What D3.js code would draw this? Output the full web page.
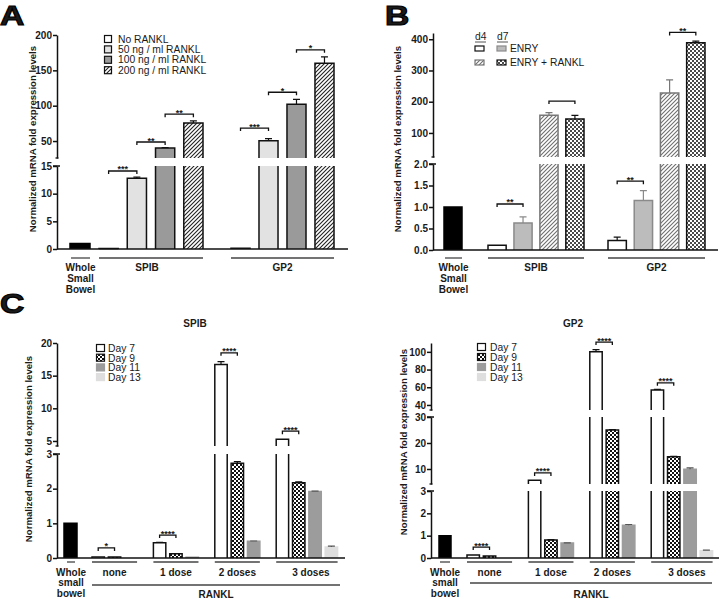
<!DOCTYPE html>
<html><head><meta charset="utf-8">
<script src="https://cdn.jsdelivr.net/npm/d3@7"></script>
<style>
body{margin:0;background:#fff}
svg{display:block}
text{font-family:"Liberation Sans",Arial,sans-serif;fill:#1a1a1a}
</style>
</head><body>
<svg id="c" width="720" height="599"></svg>
<script>
// ---------------- DATA ----------------
// Panel A
const aSeries = ["No RANKL", "50 ng / ml RANKL", "100 ng / ml RANKL", "200 ng / ml RANKL"];
const aGroups = ["SPIB", "GP2"];
const aWhole = 1.0;
const aSPIB = [0.1, 12.8, 40, 75.5];
const aSPIBErr = [0, 0.2, 0.6, 3];
const aGP2 = [0.15, 50.5, 102, 160];
const aGP2Err = [0, 3, 7, 9];
const aTicksLow = [0, 5, 10, 15];
const aTicksHigh = [50, 100, 150, 200];
const aSig = [["SPIB", 0, 1, 14.1, "***"], ["SPIB", 1, 2, 48.6, "**"], ["SPIB", 2, 3, 88, "**"],
              ["GP2", 0, 1, 68.4, "***"], ["GP2", 1, 2, 119, "*"], ["GP2", 2, 3, 179, "*"]];

// Panel B
const bSeries = ["d4 ENRY", "d7 ENRY", "d4 ENRY + RANKL", "d7 ENRY + RANKL"];
const bGroups = ["SPIB", "GP2"];
const bWhole = 1.0;
const bSPIB = [0.11, 0.63, 157, 145];
const bSPIBErr = [0, 0.14, 8, 11];
const bGP2 = [0.22, 1.15, 228, 389];
const bGP2Err = [0.08, 0.23, 42, 5];
const bTicksLow = [0, 0.5, 1.0, 1.5, 2.0];
const bTicksHigh = [100, 200, 300, 400];
const bSig = [["SPIB", 0, 1, 1.07, "**"], ["SPIB", 2, 3, 202, ""],
              ["GP2", 0, 1, 1.6, "**"], ["GP2", 2, 3, 422, "**"]];

// Panel C
const cSeries = ["Day 7", "Day 9", "Day 11", "Day 13"];
const cGroups = ["none", "1 dose", "2 doses", "3 doses"];
// SPIB (values per group: Day7, Day9, Day11, Day13; null = not measured)
const cSpibWhole = 1.0;
const cSpib = [[0.03, 0.03, 0, null], [0.44, 0.12, 0.02, null], [16.7, 2.73, 0.48, null], [5.25, 2.17, 1.92, 0.32]];
const cSpibErr = [[0, 0, 0, 0], [0.01, 0.01, 0, 0], [0.45, 0.05, 0.01, 0], [0, 0.03, 0.01, 0.02]];
const cSpibTicksLow = [0, 1, 2, 3];
const cSpibTicksHigh = [5, 10, 15, 20];
const cSpibSig = [["none", 0, 1, 0.29, "*"], ["1 dose", 0, 1, 0.66, "****"],
                  ["2 doses", 0, 1, 18.5, "****"], ["3 doses", 0, 1, 6.5, "****"]];
// GP2
const cGp2Whole = 1.0;
const cGp2 = [[0.13, 0.09, 0, null], [5.7, 0.81, 0.67, null], [100, 25, 1.47, null], [57, 14.7, 9.9, 0.32]];
const cGp2Err = [[0, 0, 0, 0], [0, 0.01, 0.01, 0], [2.5, 0.2, 0.03, 0], [0.5, 0.2, 0.5, 0.03]];
const cGp2TicksLow = [0, 1, 2, 3];
const cGp2TicksMid = [10, 20, 30];
const cGp2TicksHigh = [40, 60, 80, 100];
const cGp2Sig = [["none", 0, 1, 0.49, "****"], ["1 dose", 0, 1, 8.5, "****"],
                 ["2 doses", 0, 1, 111, "****"], ["3 doses", 0, 1, 65, "****"]];

const yTitle = "Normalized mRNA  fold expression levels";

// ---------------- DRAWING ----------------
const svg = d3.select("#c");
const defs = svg.append("defs");
function hatch(id, color) {
  const p = defs.append("pattern").attr("id", id).attr("patternUnits", "userSpaceOnUse")
    .attr("width", 4).attr("height", 4);
  p.append("rect").attr("width", 4).attr("height", 4).attr("fill", "#fff");
  p.append("path").attr("d", "M-1,1L1,-1M0,4L4,0M3,5L5,3").attr("stroke", color).attr("stroke-width", 1.1);
}
function checker(id, color) {
  const p = defs.append("pattern").attr("id", id).attr("patternUnits", "userSpaceOnUse")
    .attr("width", 4).attr("height", 4);
  p.append("rect").attr("width", 4).attr("height", 4).attr("fill", "#fff");
  p.append("rect").attr("width", 2).attr("height", 2).attr("fill", color);
  p.append("rect").attr("x", 2).attr("y", 2).attr("width", 2).attr("height", 2).attr("fill", color);
}
hatch("hatchBlack", "#222");
hatch("hatchGray", "#6f6f6f");
checker("checkBlack", "#111");
checker("checkGray", "#4a4a4a");

const whiteS = {fill: "#fff", stroke: "#111"};
const wholeS = {fill: "#000", stroke: "#000"};
const aStyles = [whiteS, {fill: "#e2e2e2", stroke: "#111"}, {fill: "#9a9a9a", stroke: "#111"}, {fill: "url(#hatchBlack)", stroke: "#111"}];
const bStyles = [whiteS, {fill: "#bcbcbc", stroke: "#8a8a8a"}, {fill: "url(#hatchGray)", stroke: "#777"}, {fill: "url(#checkGray)", stroke: "#111"}];
const cStyles = [whiteS, {fill: "url(#checkBlack)", stroke: "#111"}, {fill: "#9c9c9c", stroke: "#9c9c9c"}, {fill: "#dedede", stroke: "#dedede"}];

function drawChart(cfg) {
  const g = svg.append("g");
  const segs = cfg.segments.map(s => Object.assign({}, s, {scale: d3.scaleLinear().domain(s.domain).range(s.range)}));
  const yOf = v => { let s = segs[0]; for (const t of segs) if (v >= t.domain[0]) s = t; return s.scale(v); };

  // y axis segments
  segs.forEach((s, i) => {
    const ax = g.append("g").attr("transform", `translate(${cfg.axisX},0)`)
      .call(d3.axisLeft(s.scale).tickValues(s.ticks).tickSize(4).tickSizeOuter(0).tickFormat(d3.format(s.fmt || "d")));
    ax.select(".domain").attr("stroke", "#111").attr("stroke-width", 1.5);
    ax.selectAll(".tick line").attr("stroke", "#111").attr("stroke-width", 1.5);
    ax.selectAll(".tick text").attr("font-size", 10).attr("font-weight", "bold").attr("x", -5)
      .attr("font-family", '"Liberation Sans",Arial,sans-serif').attr("fill", "#1a1a1a");
    if (i > 0) g.append("line").attr("x1", cfg.axisX - 1.5).attr("x2", cfg.axisX + 1.5)
      .attr("y1", s.range[0]).attr("y2", s.range[0]).attr("stroke", "#111").attr("stroke-width", 1.3);
    if (i < segs.length - 1) g.append("line").attr("x1", cfg.axisX - 4).attr("x2", cfg.axisX + 3)
      .attr("y1", s.range[1]).attr("y2", s.range[1]).attr("stroke", "#111").attr("stroke-width", 1.5);
  });

  // bars
  function bar(x, w, v, err, st) {
    if (v === null || v === undefined) return;
    segs.forEach((s, i) => {
      const lo = i === 0 ? 0 : s.domain[0];
      if (v <= lo && !(i === 0)) return;
      const hi = Math.min(v, s.domain[1]);
      const yb = s.scale(lo), yt = s.scale(hi);
      g.append("rect").attr("x", x).attr("y", yt).attr("width", w).attr("height", Math.max(0, yb - yt)).attr("fill", st.fill);
      if (st.stroke && v > 0) {
        const closed = v <= s.domain[1];
        const d = closed ? `M${x},${yb}V${yt}H${x + w}V${yb}` : `M${x},${yb}V${yt}M${x + w},${yt}V${yb}`;
        g.append("path").attr("d", d).attr("fill", "none").attr("stroke", st.stroke).attr("stroke-width", 1.5);
      }
    });
    if (err > 0) {
      const cx = x + w / 2, y1 = yOf(v), y2 = yOf(v + err);
      const ec = st.stroke === "#dedede" || st.stroke === "#9c9c9c" ? "#555" : st.stroke;
      g.append("path").attr("d", `M${cx},${y1}V${y2}M${cx - 3.5},${y2}H${cx + 3.5}`)
        .attr("stroke", ec).attr("stroke-width", 1.2).attr("fill", "none");
    }
  }

  // whole bowel bar
  bar(cfg.whole.x0, cfg.whole.x1 - cfg.whole.x0, cfg.whole.value, 0, wholeS);
  const inner = {};
  cfg.groups.forEach((gr, gi) => {
    const xb = d3.scaleBand().domain(cfg.series).range(gr.extent).paddingInner(cfg.pad).paddingOuter(0);
    inner[gr.name] = xb;
    let lastX = gr.extent[0];
    cfg.series.forEach((s, si) => {
      const v = gr.values[si];
      if (v !== null) lastX = xb(s) + xb.bandwidth();
      bar(xb(s), xb.bandwidth(), v, gr.errs[si], cfg.styles[si]);
    });
    gr.lineEnd = lastX;
  });

  // x axis
  g.append("line").attr("x1", cfg.axisX).attr("x2", cfg.xEnd).attr("y1", cfg.y0).attr("y2", cfg.y0)
    .attr("stroke", "#111").attr("stroke-width", 1.5);

  // significance brackets
  cfg.sig.forEach(([gn, i, j, yv, lab]) => {
    const xb = inner[gn];
    const x1 = xb(cfg.series[i]) + xb.bandwidth() / 2, x2 = xb(cfg.series[j]) + xb.bandwidth() / 2;
    const y = yOf(yv);
    g.append("path").attr("d", `M${x1},${y + 3}V${y}H${x2}V${y + 3}`).attr("fill", "none")
      .attr("stroke", "#111").attr("stroke-width", 1.3);
    if (lab) g.append("text").attr("x", (x1 + x2) / 2).attr("y", y + 1.5).attr("text-anchor", "middle")
      .attr("font-size", 9).attr("font-weight", "bold").text(lab);
  });

  // group underlines & labels
  const ul = (x1, x2, y) => g.append("line").attr("x1", x1).attr("x2", x2).attr("y1", y).attr("y2", y)
    .attr("stroke", "#444").attr("stroke-width", 1.3);
  const wl = cfg.whole.line;
  ul(wl[0], wl[1], cfg.ulY);
  cfg.whole.label.forEach((t, k) => g.append("text").attr("x", (wl[0] + wl[1]) / 2).attr("y", cfg.labY + k * cfg.lineH)
    .attr("text-anchor", "middle").attr("font-size", 10).attr("font-weight", "bold").text(t));
  cfg.groups.forEach(gr => {
    const x2 = cfg.fullLines ? gr.extent[1] : gr.lineEnd;
    ul(gr.extent[0], x2, cfg.ulY);
    g.append("text").attr("x", (gr.extent[0] + x2) / 2 + (gr.labDx || 0)).attr("y", cfg.labY)
      .attr("text-anchor", "middle").attr("font-size", 10).attr("font-weight", "bold").text(gr.name);
  });
  if (cfg.outer) {
    ul(cfg.outer.x0, cfg.outer.x1, cfg.outer.y);
    g.append("text").attr("x", (cfg.outer.x0 + cfg.outer.x1) / 2).attr("y", cfg.outer.labY)
      .attr("text-anchor", "middle").attr("font-size", 10).attr("font-weight", "bold").text(cfg.outer.label);
  }
  if (cfg.title) g.append("text").attr("x", cfg.title.x).attr("y", cfg.title.y).attr("text-anchor", "middle")
    .attr("font-size", 10).attr("font-weight", "bold").text(cfg.title.text);

  // y title
  g.append("text").attr("transform", `translate(${cfg.yTitle.x},${cfg.yTitle.y}) rotate(-90)`)
    .attr("text-anchor", "middle").attr("dominant-baseline", "central")
    .attr("font-size", cfg.yTitle.size || 9.6).attr("font-weight", "bold").text(yTitle);
  return g;
}

function legendBox(x, y, w, h, st) {
  svg.append("rect").attr("x", x).attr("y", y).attr("width", w).attr("height", h)
    .attr("fill", st.fill).attr("stroke", st.stroke).attr("stroke-width", 1.2);
}
function legendText(x, y, t) {
  svg.append("text").attr("x", x).attr("y", y).attr("font-size", 10.3).text(t);
}

// ---- Panel A
drawChart({
  axisX: 57, y0: 249, xEnd: 348,
  segments: [{domain: [0, 15], range: [249, 166], ticks: aTicksLow}, {domain: [26, 200], range: [158, 35], ticks: aTicksHigh}],
  series: aSeries, styles: aStyles, pad: 0.32,
  whole: {x0: 70, x1: 90, value: aWhole, line: [71, 90], label: ["Whole", "Small", "Bowel"]},
  groups: [{name: aGroups[0], extent: [99, 203], values: aSPIB, errs: aSPIBErr, labDx: -4},
           {name: aGroups[1], extent: [231, 334], values: aGP2, errs: aGP2Err}],
  fullLines: true, ulY: 258, labY: 271, lineH: 11,
  sig: aSig, yTitle: {x: 32, y: 139}
});
aSeries.forEach((s, i) => {
  const y = 35.5 + i * 10.4;
  legendBox(104.5, y, 7, 7, aStyles[i]);
  legendText(118, y + 7, s);
});

// ---- Panel B
drawChart({
  axisX: 433, y0: 250, xEnd: 718,
  segments: [{domain: [0, 2], range: [250, 164], ticks: bTicksLow, fmt: ".1f"}, {domain: [23, 420], range: [157, 33], ticks: bTicksHigh}],
  series: bSeries, styles: bStyles, pad: 0.3,
  whole: {x0: 444, x1: 462, value: bWhole, line: [445, 462], label: ["Whole", "Small", "Bowel"]},
  groups: [{name: bGroups[0], extent: [488, 584], values: bSPIB, errs: bSPIBErr},
           {name: bGroups[1], extent: [608, 705], values: bGP2, errs: bGP2Err}],
  fullLines: true, ulY: 258, labY: 271, lineH: 11,
  sig: bSig, yTitle: {x: 397, y: 139}
});
legendText(475, 40, "d4");
legendText(497, 40, "d7");
svg.append("line").attr("x1", 475).attr("x2", 486).attr("y1", 42).attr("y2", 42).attr("stroke", "#555").attr("stroke-width", 1);
svg.append("line").attr("x1", 497).attr("x2", 508).attr("y1", 42).attr("y2", 42).attr("stroke", "#555").attr("stroke-width", 1);
legendBox(475, 46, 9, 5, bStyles[0]);
legendBox(497, 46, 9, 5, bStyles[1]);
legendText(510, 52, "ENRY");
legendBox(475, 60, 9, 5, bStyles[2]);
legendBox(497, 60, 9, 5, bStyles[3]);
legendText(510, 66, "ENRY + RANKL");

// ---- Panel C (SPIB)
const gbL = d3.scaleBand().domain(cGroups).range([92, 337.6]).paddingInner(0);
drawChart({
  axisX: 57, y0: 558, xEnd: 345,
  segments: [{domain: [0, 3], range: [558, 454], ticks: cSpibTicksLow}, {domain: [4.23, 20], range: [446, 343], ticks: cSpibTicksHigh}],
  series: cSeries, styles: cStyles, pad: 0.24,
  whole: {x0: 64, x1: 77, value: cSpibWhole, line: [67, 75], label: ["Whole", "small", "bowel"]},
  groups: cGroups.map((n, i) => ({name: n, extent: [gbL(n), gbL(n) + gbL.bandwidth()], values: cSpib[i], errs: cSpibErr[i], labDx: i === 3 ? 4 : 0})),
  fullLines: false, ulY: 562, labY: 575.5, lineH: 10.8,
  outer: {x0: 92, x1: 340, y: 585, labY: 597.5, label: "RANKL"},
  title: {x: 195, y: 326.5, text: "SPIB"},
  sig: cSpibSig, yTitle: {x: 28, y: 449}
});
cSeries.forEach((s, i) => {
  const y = 344.5 + i * 9.7;
  legendBox(96.5, y, 8, 7, cStyles[i]);
  legendText(108, y + 7.5, s);
});

// ---- Panel C (GP2)
const gbR = d3.scaleBand().domain(cGroups).range([467, 712.6]).paddingInner(0);
drawChart({
  axisX: 431, y0: 558, xEnd: 719,
  segments: [{domain: [0, 3], range: [558, 491], ticks: cGp2TicksLow},
             {domain: [4.23, 30], range: [484, 417], ticks: cGp2TicksMid},
             {domain: [34.3, 110], range: [410, 343], ticks: cGp2TicksHigh}],
  series: cSeries, styles: cStyles, pad: 0.24,
  whole: {x0: 439, x1: 451, value: cGp2Whole, line: [440, 450], label: ["Whole", "small", "bowel"]},
  groups: cGroups.map((n, i) => ({name: n, extent: [gbR(n), gbR(n) + gbR.bandwidth()], values: cGp2[i], errs: cGp2Err[i], labDx: i === 3 ? 5 : 0})),
  fullLines: false, ulY: 562, labY: 575.5, lineH: 10.8,
  outer: {x0: 470, x1: 712, y: 583, labY: 597.5, label: "RANKL"},
  title: {x: 573, y: 326.5, text: "GP2"},
  sig: cGp2Sig, yTitle: {x: 403, y: 442}
});
cSeries.forEach((s, i) => {
  const y = 343.5 + i * 10;
  legendBox(477.5, y, 8, 7, cStyles[i]);
  legendText(490, y + 7.5, s);
});

// panel letters
const letter = (t, x, y) => svg.append("text").attr("x", x).attr("y", y).attr("font-size", 28).attr("font-weight", "bold")
  .attr("stroke", "#000").attr("stroke-width", 1.2).attr("fill", "#000")
  .attr("transform", `translate(${x},0) scale(1.2,1) translate(${-x},0)`).text(t);
letter("A", 0, 25);
letter("B", 385, 25);
letter("C", 0, 313);
</script>
</body></html>
